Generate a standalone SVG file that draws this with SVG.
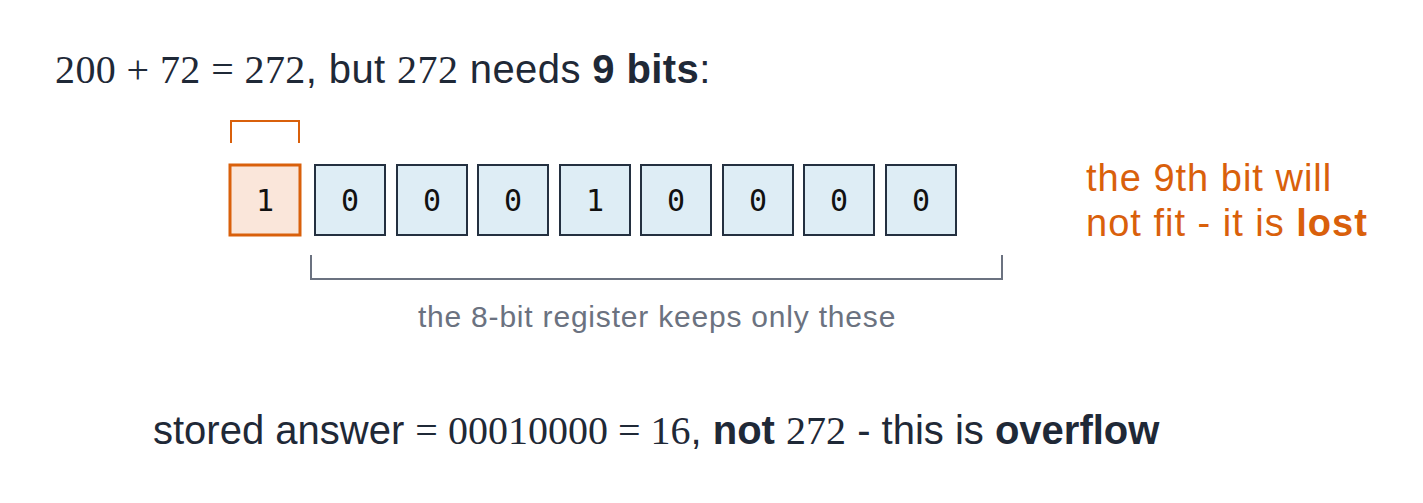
<svg xmlns="http://www.w3.org/2000/svg" width="1423" height="503" viewBox="0 0 1423 503">
<style>
.sans{font-family:"Liberation Sans","DejaVu Sans",sans-serif;}
.m{font-family:"Liberation Serif","DejaVu Serif",serif;}
.b{font-weight:bold;}
.main{font-size:40px;fill:#1f2937;}
.title{letter-spacing:0.4px;}
.bit{fill:#deedf5;stroke:#243040;stroke-width:2;}
.bit1{fill:#fae6da;stroke:#d9600b;stroke-width:3;}
.digit{font-family:"DejaVu Sans Mono","Liberation Mono",monospace;font-size:30px;fill:#111;text-anchor:middle;}
.orange{fill:#d9600b;font-size:38px;letter-spacing:1px;}
.gray{fill:#6b7280;font-size:30px;letter-spacing:0.8px;}
</style>
<rect width="1423" height="503" fill="#ffffff"/>
<g id="title">
<text class="sans main title" x="55" y="83"><tspan class="m">200 + 72 = 272</tspan>, but <tspan class="m">272</tspan> needs <tspan class="b">9 bits</tspan>:</text>
</g>
<g id="bit-9">
<rect class="bit1" x="230" y="165" width="70" height="70"/>
<text class="digit" x="265" y="211">1</text>
</g>
<g id="bit-7"><rect class="bit" x="315" y="165" width="70" height="70"/><text class="digit" x="350" y="211">0</text></g>
<g id="bit-6"><rect class="bit" x="397" y="165" width="70" height="70"/><text class="digit" x="432" y="211">0</text></g>
<g id="bit-5"><rect class="bit" x="478" y="165" width="70" height="70"/><text class="digit" x="513" y="211">0</text></g>
<g id="bit-4"><rect class="bit" x="560" y="165" width="70" height="70"/><text class="digit" x="595" y="211">1</text></g>
<g id="bit-3"><rect class="bit" x="641" y="165" width="70" height="70"/><text class="digit" x="676" y="211">0</text></g>
<g id="bit-2"><rect class="bit" x="723" y="165" width="70" height="70"/><text class="digit" x="758" y="211">0</text></g>
<g id="bit-1"><rect class="bit" x="804" y="165" width="70" height="70"/><text class="digit" x="839" y="211">0</text></g>
<g id="bit-0"><rect class="bit" x="886" y="165" width="70" height="70"/><text class="digit" x="921" y="211">0</text></g>
<g id="connectors" fill="none">
<path d="M231 143 V121 H299 V143" stroke="#d9600b" stroke-width="2"/>
<path d="M311 255 V279 H1002 V255" stroke="#6b7280" stroke-width="2"/>
</g>
<g id="register-label">
<text class="sans gray" x="657" y="327" text-anchor="middle">the 8-bit register keeps only these</text>
</g>
<g id="lost-note">
<text class="sans orange" x="1086" y="191">the 9th bit will</text>
<text class="sans orange" x="1086" y="236">not fit - it is <tspan class="b">lost</tspan></text>
</g>
<g id="conclusion">
<text class="sans main" x="153" y="444">stored answer <tspan class="m">= 00010000 = 16</tspan>, <tspan class="b">not</tspan> <tspan class="m">272</tspan> - this is <tspan class="b">overflow</tspan></text>
</g>
</svg>
